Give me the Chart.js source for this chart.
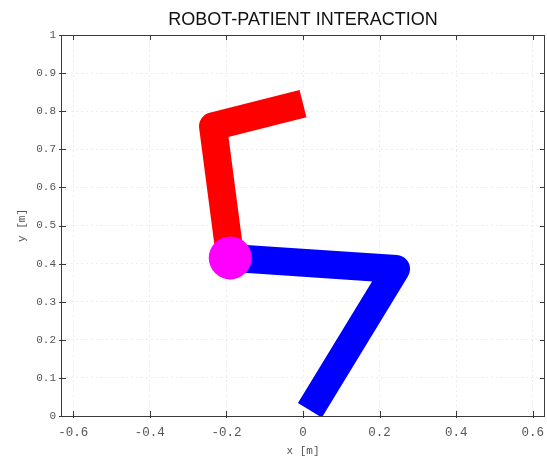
<!DOCTYPE html>
<html>
<head>
<meta charset="utf-8">
<script src="https://cdn.jsdelivr.net/npm/chart.js@4/dist/chart.umd.min.js"></script>
<style>
  html, body { margin: 0; padding: 0; background: #ffffff; }
  #c { display: block; }
</style>
</head>
<body>
<canvas id="c" width="547" height="459"></canvas>
<script>
// ---- data ----
const chartTitle = 'ROBOT-PATIENT INTERACTION';
const xAxisTitle = 'x [m]';
const yAxisTitle = 'y [m]';

const xTickValues = [-0.6, -0.4, -0.2, 0, 0.2, 0.4, 0.6];
const xTickLabels = ['-0.6', '-0.4', '-0.2', '0', '0.2', '0.4', '0.6'];
const yTickValues = [0, 0.1, 0.2, 0.3, 0.4, 0.5, 0.6, 0.7, 0.8, 0.9, 1];
const yTickLabels = ['0', '0.1', '0.2', '0.3', '0.4', '0.5', '0.6', '0.7', '0.8', '0.9', '1'];
const xLimits = [-0.632, 0.632];
const yLimits = [0, 1];

// robot upper link (red): joint -> elbow -> end
const redLinkX = [-0.19, -0.235, 0.0];
const redLinkY = [0.415, 0.76, 0.82];
// patient link (blue): joint -> elbow -> end
const blueLinkX = [-0.19, 0.243, 0.018];
const blueLinkY = [0.415, 0.386, 0.015];
// interaction joint (magenta)
const jointX = [-0.19];
const jointY = [0.415];

const toPts = (xs, ys) => xs.map((x, i) => ({ x: x, y: ys[i] }));

const monoFamily = '"Liberation Mono", "DejaVu Sans Mono", monospace';

const framePlugin = {
  id: 'frame',
  afterLayout(chart) {
    // centre the title over the plot area
    if (chart.titleBlock) {
      chart.titleBlock.left = chart.chartArea.left;
      chart.titleBlock.right = chart.chartArea.right;
    }
  },
  afterDraw(chart) {
    const ctx = chart.ctx;
    const a = chart.chartArea;
    const xs = chart.scales.x, ys = chart.scales.y;
    ctx.save();
    ctx.strokeStyle = '#3a3a3a';
    ctx.lineWidth = 1;
    ctx.beginPath();
    ctx.rect(Math.round(a.left) + 0.5, Math.round(a.top) + 0.5,
             Math.round(a.right - a.left) - 1, Math.round(a.bottom - a.top));
    ctx.stroke();
    // tick marks (mostly inward, like the original)
    const L = 5, O = 2;
    ctx.beginPath();
    xs.ticks.forEach(t => {
      const px = Math.round(xs.getPixelForValue(t.value)) + 0.5;
      ctx.moveTo(px, a.bottom + O); ctx.lineTo(px, a.bottom - L);
      ctx.moveTo(px, a.top); ctx.lineTo(px, a.top + L);
    });
    ys.ticks.forEach(t => {
      const py = Math.round(ys.getPixelForValue(t.value)) + 0.5;
      ctx.moveTo(a.left - O, py); ctx.lineTo(a.left + L, py);
      ctx.moveTo(a.right, py); ctx.lineTo(a.right - L, py);
    });
    ctx.stroke();
    ctx.restore();
  }
};

new Chart(document.getElementById('c'), {
  type: 'scatter',
  data: {
    datasets: [
      {
        label: 'joint',
        data: toPts(jointX, jointY),
        backgroundColor: '#ff00ff',
        borderWidth: 0,
        pointRadius: 21.5,
        pointHoverRadius: 21.5,
        showLine: false,
        order: 0
      },
      {
        label: 'robot',
        data: toPts(redLinkX, redLinkY),
        borderColor: '#ff0000',
        backgroundColor: '#ff0000',
        borderWidth: 28,
        borderJoinStyle: 'round',
        borderCapStyle: 'butt',
        pointRadius: 0,
        showLine: true,
        order: 1
      },
      {
        label: 'patient',
        data: toPts(blueLinkX, blueLinkY),
        borderColor: '#0000ff',
        backgroundColor: '#0000ff',
        borderWidth: 28,
        borderJoinStyle: 'round',
        borderCapStyle: 'butt',
        pointRadius: 0,
        showLine: true,
        order: 2
      }
    ]
  },
  options: {
    responsive: false,
    animation: false,
    devicePixelRatio: 1,
    layout: { autoPadding: false, padding: { left: 0, right: 2, top: 0, bottom: 0 } },
    plugins: {
      legend: { display: false },
      tooltip: { enabled: false },
      title: {
        display: true,
        text: chartTitle,
        color: '#111111',
        font: { family: '"Liberation Sans", Arial, sans-serif', size: 18, weight: 'normal', lineHeight: 1.2 },
        padding: { top: 9, bottom: 4.4 }
      }
    },
    scales: {
      x: {
        type: 'linear',
        min: xLimits[0],
        max: xLimits[1],
        afterBuildTicks: s => { s.ticks = xTickValues.map(v => ({ value: v })); },
        afterFit: s => { s.height = 43; s.paddingLeft = 0; s.paddingRight = 0; },
        ticks: {
          autoSkip: false,
          maxRotation: 0,
          padding: 9,
          color: '#555555',
          font: { family: monoFamily, size: 12.5 },
          callback: (v, i) => xTickLabels[i]
        },
        grid: { color: '#ececec', drawTicks: false },
        border: { display: false, dash: [2, 3] },
        title: { display: true, text: xAxisTitle, color: '#555555', font: { family: monoFamily, size: 11 }, padding: { top: 1, bottom: 1 } }
      },
      y: {
        type: 'linear',
        min: yLimits[0],
        max: yLimits[1],
        afterBuildTicks: s => { s.ticks = yTickValues.map(v => ({ value: v })); },
        afterFit: s => { s.width = 61; s.paddingTop = 0; s.paddingBottom = 0; },
        ticks: {
          autoSkip: false,
          padding: 5,
          color: '#555555',
          font: { family: monoFamily, size: 11 },
          callback: (v, i) => yTickLabels[i]
        },
        grid: { color: '#ececec', drawTicks: false },
        border: { display: false, dash: [2, 3] },
        title: { display: true, text: yAxisTitle, color: '#555555', font: { family: monoFamily, size: 11 }, padding: { top: 15, bottom: 15 } }
      }
    }
  },
  plugins: [framePlugin]
});
</script>
</body>
</html>
